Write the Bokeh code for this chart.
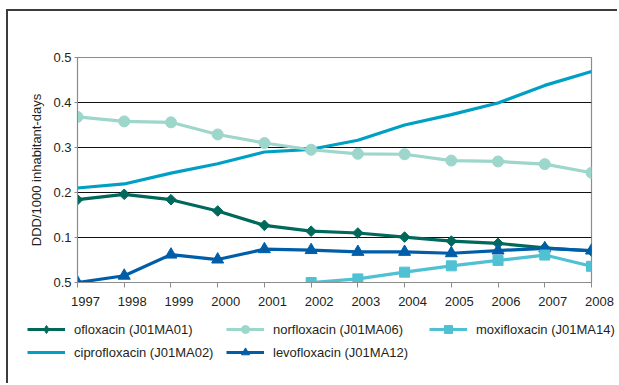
import math
from bokeh.plotting import figure
from bokeh.layouts import column
from bokeh.models import Range1d, FixedTicker, Legend, LegendItem
from bokeh.embed import file_html
from bokeh.resources import INLINE

years = [1997, 1998, 1999, 2000, 2001, 2002, 2003, 2004, 2005, 2006, 2007, 2008]
ofloxacin = [0.184, 0.196, 0.184, 0.159, 0.127, 0.114, 0.110, 0.101, 0.092, 0.087, 0.077, 0.070]
norfloxacin = [0.368, 0.358, 0.356, 0.329, 0.310, 0.295, 0.286, 0.285, 0.271, 0.269, 0.263, 0.244]
ciprofloxacin = [0.210, 0.219, 0.243, 0.264, 0.290, 0.296, 0.316, 0.350, 0.373, 0.399, 0.438, 0.469]
levofloxacin = [0.000, 0.015, 0.062, 0.051, 0.074, 0.072, 0.068, 0.068, 0.065, 0.071, 0.076, 0.071]
moxi_years = [2002, 2003, 2004, 2005, 2006, 2007, 2008]
moxifloxacin = [0.000, 0.008, 0.023, 0.037, 0.049, 0.061, 0.036]
y_ticks = [0.0, 0.1, 0.2, 0.3, 0.4, 0.5]
y_tick_labels = ["0.5", "0.1", "0.2", "0.3", "0.4", "0.5"]
y_title = "DDD/1000 inhabitant-days"
labels = ["ofloxacin (J01MA01)", "ciprofloxacin (J01MA02)", "norfloxacin (J01MA06)",
          "levofloxacin (J01MA12)", "moxifloxacin (J01MA14)"]

FONT = "Liberation Sans"
TXT = "#231f20"
AX = "#8c8c8c"
C_OFL = "#00695c"
C_NOR = "#9dd6cb"
C_CIP = "#00a0c4"
C_LEV = "#005ea8"
C_MOX = "#4fc1d3"

# ---- layout geometry (page pixels) ----
OX, OY = 8, 11              # origin of the inner area (inside the outer frame)
FL, FR, FT, FB = 77, 591, 57, 282   # main plot frame
W = 609
H1 = FB - OY + 8
H2 = 93
LAB_SHIFT = 8               # tick labels sit a little right of their ticks

p = figure(width=W, height=H1, output_backend="svg", toolbar_location=None,
           x_range=Range1d(years[0], years[-1]), y_range=Range1d(0, 0.5),
           min_border_left=FL - OX, min_border_right=OX + W - FR,
           min_border_top=FT - OY, min_border_bottom=H1 - (FB - OY),
           background_fill_color="white", border_fill_color="white")

p.outline_line_color = AX
p.outline_line_width = 1.2
p.xgrid.visible = False
p.ygrid.ticker = FixedTicker(ticks=[0.1, 0.2, 0.3, 0.4])
p.ygrid.grid_line_color = "#111111"
p.ygrid.grid_line_width = 1

p.yaxis.ticker = FixedTicker(ticks=y_ticks)
p.yaxis.major_label_overrides = {t: l for t, l in zip(y_ticks, y_tick_labels)}
p.yaxis.axis_label = y_title
p.yaxis.axis_label_text_font = FONT
p.yaxis.axis_label_text_font_size = "13px"
p.yaxis.axis_label_text_font_style = "normal"
p.yaxis.axis_label_text_color = TXT
p.yaxis.axis_label_standoff = 6
p.yaxis.major_label_text_font = FONT
p.yaxis.major_label_text_font_size = "13px"
p.yaxis.major_label_text_color = TXT
p.yaxis.major_label_standoff = 3
p.yaxis.axis_line_color = AX
p.yaxis.major_tick_line_color = AX
p.yaxis.major_tick_out = 3
p.yaxis.major_tick_in = 0
p.yaxis.minor_tick_line_color = None

p.xaxis.ticker = FixedTicker(ticks=years)
p.xaxis.major_label_overrides = {y: "" for y in years}
p.xaxis.major_label_standoff = 0
p.xaxis.axis_line_color = AX
p.xaxis.major_tick_line_color = AX
p.xaxis.major_tick_out = 5
p.xaxis.major_tick_in = 0
p.xaxis.minor_tick_line_color = None

LW = 3.2
p.line(years, ciprofloxacin, line_color=C_CIP, line_width=LW)
p.line(years, ofloxacin, line_color=C_OFL, line_width=LW)
p.scatter(years, ofloxacin, marker="square", angle=math.pi / 4, size=7.5,
          fill_color=C_OFL, line_color=C_OFL)
p.line(years, norfloxacin, line_color=C_NOR, line_width=LW)
p.scatter(years, norfloxacin, marker="circle", size=11, fill_color=C_NOR, line_color=C_NOR)
p.line(years, levofloxacin, line_color=C_LEV, line_width=LW)
p.scatter(years, levofloxacin, marker="triangle", size=12, fill_color=C_LEV, line_color=C_LEV)
p.line(moxi_years, moxifloxacin, line_color=C_MOX, line_width=LW)
p.scatter(moxi_years, moxifloxacin, marker="square", size=10, fill_color=C_MOX, line_color=C_MOX)

# ---- lower strip: year labels + legend ----
ppy = (FR - FL) / (years[-1] - years[0])
x0 = years[0] - (FL + LAB_SHIFT - OX) / ppy
x1 = years[0] + (OX + W - FL - LAB_SHIFT) / ppy
p2 = figure(width=W, height=H2, output_backend="svg", toolbar_location=None,
            x_range=Range1d(x0, x1), y_range=Range1d(0, 1),
            x_axis_location="above", y_axis_location=None,
            min_border_left=0, min_border_right=0, min_border_top=20,
            min_border_bottom=0, background_fill_color="white",
            border_fill_color="white")
for fig in (p, p2):
    try:
        fig.frame_align = False
    except Exception:
        pass
p2.outline_line_color = None
p2.grid.visible = False
ax = p2.xaxis[0]
ax.ticker = FixedTicker(ticks=years)
ax.axis_line_color = None
ax.major_tick_line_color = None
ax.minor_tick_line_color = None
ax.major_tick_out = 0
ax.major_tick_in = 0
ax.major_label_standoff = 5
ax.major_label_text_font = FONT
ax.major_label_text_font_size = "13px"
ax.major_label_text_color = TXT

NA = [float("nan")]
g_ofl = [p2.line(NA, NA, line_color=C_OFL, line_width=LW),
         p2.scatter(NA, NA, marker="diamond", size=12,
                    fill_color=C_OFL, line_color=C_OFL)]
g_cip = [p2.line(NA, NA, line_color=C_CIP, line_width=LW)]
g_nor = [p2.line(NA, NA, line_color=C_NOR, line_width=LW),
         p2.scatter(NA, NA, marker="circle", size=11, fill_color=C_NOR, line_color=C_NOR)]
g_lev = [p2.line(NA, NA, line_color=C_LEV, line_width=LW),
         p2.scatter(NA, NA, marker="triangle", size=12, fill_color=C_LEV, line_color=C_LEV)]
g_mox = [p2.line(NA, NA, line_color=C_MOX, line_width=LW),
         p2.scatter(NA, NA, marker="square", size=10, fill_color=C_MOX, line_color=C_MOX)]

bottom2 = OY + H1 + H2
def mk_legend(items, left_px, bottom_px):
    lg = Legend(items=items, location=(left_px - OX, bottom2 - bottom_px),
                orientation="vertical",
                glyph_width=38, glyph_height=20, label_height=20,
                label_standoff=9, spacing=3, padding=0, margin=0,
                border_line_alpha=0, background_fill_alpha=0,
                label_text_font=FONT, label_text_font_size="13px",
                label_text_color=TXT)
    p2.add_layout(lg, "center")

mk_legend([LegendItem(label=labels[0], renderers=g_ofl),
           LegendItem(label=labels[1], renderers=g_cip)], 27, 362)
mk_legend([LegendItem(label=labels[2], renderers=g_nor),
           LegendItem(label=labels[3], renderers=g_lev)], 226, 362)
mk_legend([LegendItem(label=labels[4], renderers=g_mox)], 429, 339)

root = column(p, p2, spacing=0, margin=(OY - 2, 0, 0, OX - 2),
              styles={"border-top": "2px solid #3c3c3c",
                      "border-left": "2px solid #3c3c3c"})

open("out.html", "w").write(file_html(root, INLINE))
